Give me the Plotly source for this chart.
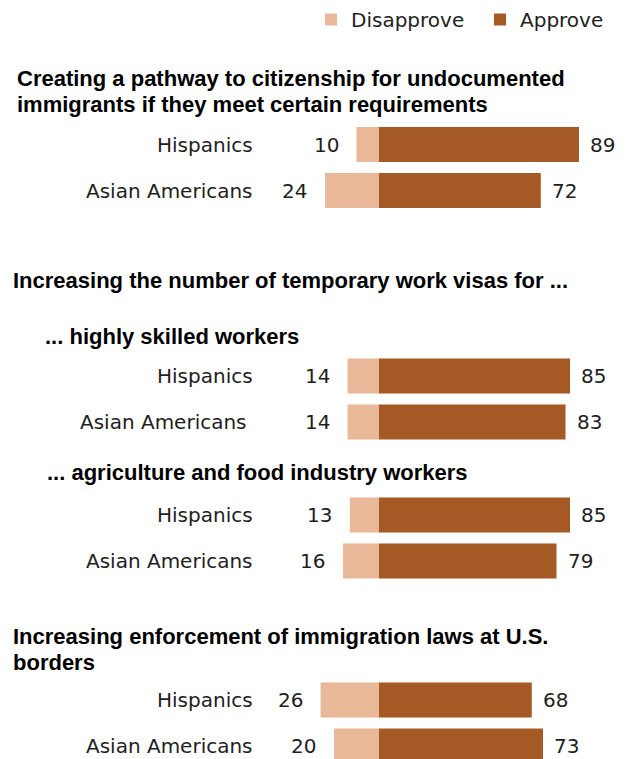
import plotly.graph_objects as go

# ---- data ----
groups = ["Pathway", "Pathway", "Skilled", "Skilled", "Agri", "Agri", "Border", "Border"]
row_labels = ["Hispanics", "Asian Americans"] * 4
disapprove = [10, 24, 14, 14, 13, 16, 26, 20]
approve = [89, 72, 85, 83, 85, 79, 68, 73]
headings = [
    "Creating a pathway to citizenship for undocumented",
    "immigrants if they meet certain requirements",
    "Increasing the number of temporary work visas for ...",
    "... highly skilled workers",
    "... agriculture and food industry workers",
    "Increasing enforcement of immigration laws at U.S.",
    "borders",
]

# ---- layout positions (in page pixels; page body has an 8px margin) ----
OFF = 8
W, H = 628 - OFF, 759 - OFF
row_y = [y - OFF for y in [144.5, 190.5, 376, 422, 515, 561, 700, 746]]
label_x = [x - OFF + 3 for x in [252, 252, 252, 246, 252, 252, 252, 252]]
heading_pos = [(x - OFF - 3, y - OFF) for x, y in
               [(18, 78), (18, 104), (14, 280), (46, 336), (48, 472), (14, 636), (14, 662)]]
zero_px = 379 - OFF
px_per_unit = 2.247

C_APP = "#a55a26"
C_DIS = "#e8b898"
BODY = dict(family="DejaVu Sans, Arial, sans-serif", size=20, color="#1e1e1e")
HEAD = dict(family="Liberation Sans, Arial, sans-serif", size=22, color="#000000", weight=700)

fig = go.Figure()
fig.add_trace(go.Bar(
    name="Disapprove", orientation="h", y=row_y, x=[-v for v in disapprove],
    marker=dict(color=C_DIS, line=dict(width=0)), width=35, hoverinfo="skip",
    legend="legend",
))
fig.add_trace(go.Bar(
    name="Approve", orientation="h", y=row_y, x=approve,
    marker=dict(color=C_APP, line=dict(width=0)), width=35, hoverinfo="skip",
    legend="legend2",
))

ann = []
for y, lab, lx, d, a in zip(row_y, row_labels, label_x, disapprove, approve):
    ann.append(dict(x=lx / W, xref="paper", y=y, yref="y", text=lab, showarrow=False,
                    xanchor="right", yanchor="middle", font=BODY))
    ann.append(dict(x=-d, xref="x", y=y, yref="y", text=str(d), showarrow=False,
                    xanchor="right", yanchor="middle", xshift=-16, font=BODY))
    ann.append(dict(x=a, xref="x", y=y, yref="y", text=str(a), showarrow=False,
                    xanchor="left", yanchor="middle", xshift=9, font=BODY))
for txt, (hx, hy) in zip(headings, heading_pos):
    ann.append(dict(x=hx / W, xref="paper", y=hy, yref="y", text=txt, showarrow=False,
                    xanchor="left", yanchor="middle", font=HEAD))

leg_common = dict(orientation="h", xanchor="left", y=1 + 8 / H, yanchor="top", font=BODY,
                  itemclick=False, itemdoubleclick=False, bgcolor="rgba(0,0,0,0)")
fig.update_layout(
    width=W, height=H,
    margin=dict(l=0, r=0, t=0, b=0, autoexpand=False),
    paper_bgcolor="white", plot_bgcolor="white",
    barmode="relative",
    showlegend=True,
    legend=dict(x=(311 - OFF) / W, **leg_common),
    legend2=dict(x=(480 - OFF) / W, **leg_common),
    xaxis=dict(range=[-zero_px / px_per_unit, (W - zero_px) / px_per_unit], visible=False, fixedrange=True),
    yaxis=dict(range=[H, 0], visible=False, fixedrange=True),
    annotations=ann,
)

fig.write_html("out.html")
